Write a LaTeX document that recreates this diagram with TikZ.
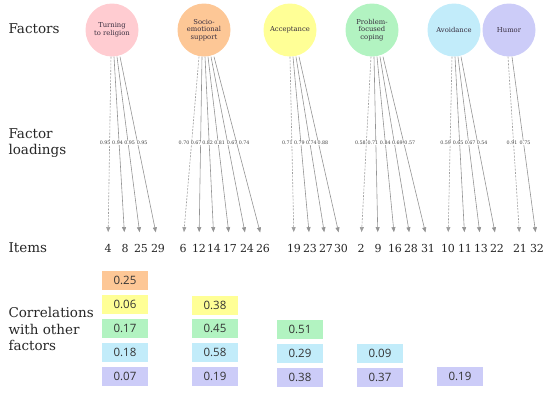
\documentclass[tikz,border=0pt]{standalone}
\usepackage{fontspec}
\setmainfont{DejaVu Serif}
\newfontfamily\corrfont{Open Sans}
\usetikzlibrary{arrows.meta}
\definecolor{religF}{RGB}{255,204,209}
\definecolor{socioF}{RGB}{253,199,150}
\definecolor{accF}{RGB}{255,255,150}
\definecolor{probF}{RGB}{178,243,193}
\definecolor{avoidF}{RGB}{194,236,250}
\definecolor{humorF}{RGB}{204,204,248}
\definecolor{txtdark}{RGB}{55,45,62}

\begin{document}
\begin{tikzpicture}[x=1pt,y=-1pt,
  factor/.style={circle,minimum size=53pt,inner sep=0pt,align=center,text=txtdark,font=\fontsize{6.8}{7.8}\selectfont},
  head/.style={anchor=west,align=left,text=black!85,font=\fontsize{13.5}{16.5}\selectfont},
  item/.style={anchor=base,inner sep=1pt,text height=7.7pt,text depth=0pt,text=black!85,font=\fontsize{11}{12}\selectfont},
  loading/.style={-{Triangle[length=5pt,width=4pt]},draw=black!42,line width=.6pt,shorten >=11pt},
  fixedarrow/.style={loading,draw=black!38,dash pattern=on 2pt off 1.3pt},
  lab/.style={pos=.463,fill=white,inner sep=.3pt,text=black!75,font=\fontsize{4.8}{5}\selectfont},
  corr/.style={minimum width=46pt,minimum height=19pt,inner sep=0pt,text=black!80,font=\corrfont\fontsize{11.5}{12}\selectfont}]
\useasboundingbox (0,0) rectangle (550,392);

\node[head] (hfac) at (5,28.5) {Factors};
\node[head] (hload) at (5,143) {Factor\\loadings};
\node[head,anchor=base west] (hitem) at (5,252) {Items};
\node[head] (hcorr) at (5,329) {Correlations\\with other\\factors};

\node[factor,fill=religF] (tr) at (112,30) {Turning\\to religion};
\node[factor,fill=socioF] (se) at (204,30) {Socio-\\emotional\\support};
\node[factor,fill=accF] (ac) at (290,30) {Acceptance};
\node[factor,fill=probF] (pf) at (372,30) {Problem-\\focused\\coping};
\node[factor,fill=avoidF] (av) at (454,30) {Avoidance};
\node[factor,fill=humorF] (hu) at (509,30) {Humor};

\foreach \x/\i in {108/4,125/8,141/25,158/29,183/6,199/12,214/14,230/17,247/24,263/26,
  294/19,310/23,326/27,341/30,361/2,378/9,395/16,411/28,428/31,448/10,465/11,481/13,497/22,520/21,537/32}
  \node[item] (it\i) at (\x,252) {\i};

\draw[fixedarrow] ([xshift=-1pt]tr.south) -- node[lab,xshift=-4.5pt]{0.95} (it4.north);
\foreach \d/\i/\v/\s in {2/8/0.94/-1.5,5/25/0.95/1.5,8/29/0.95/4.5}
  \draw[loading] ([xshift=\d pt]tr.south) -- node[lab,xshift=\s pt]{\v} (it\i.north);

\draw[fixedarrow] ([xshift=-5pt]se.south) -- node[lab,xshift=-7.5pt]{0.70} (it6.north);
\foreach \d/\i/\v/\s in {-2/12/0.67/-4.5,1/14/0.82/-1.5,4/17/0.81/1.5,7/24/0.67/4.5,10/26/0.74/7.5}
  \draw[loading] ([xshift=\d pt]se.south) -- node[lab,xshift=\s pt]{\v} (it\i.north);

\draw[fixedarrow] ([xshift=0pt]ac.south) -- node[lab,xshift=-4.5pt]{0.71} (it19.north);
\foreach \d/\i/\v/\s in {3/23/0.79/-1.5,6/27/0.74/1.5,9/30/0.88/4.5}
  \draw[loading] ([xshift=\d pt]ac.south) -- node[lab,xshift=\s pt]{\v} (it\i.north);

\draw[fixedarrow] ([xshift=-1pt]pf.south) -- node[lab,xshift=-6pt]{0.58} (it2.north);
\foreach \d/\i/\v/\s in {2/9/0.71/-3,5/16/0.84/0,8/28/0.69/3,11/31/0.57/6}
  \draw[loading] ([xshift=\d pt]pf.south) -- node[lab,xshift=\s pt]{\v} (it\i.north);

\draw[fixedarrow] ([xshift=-2pt]av.south) -- node[lab,xshift=-4.5pt]{0.59} (it10.north);
\foreach \d/\i/\v/\s in {1/11/0.65/-1.5,4/13/0.67/1.5,7/22/0.54/4.5}
  \draw[loading] ([xshift=\d pt]av.south) -- node[lab,xshift=\s pt]{\v} (it\i.north);

\draw[fixedarrow] ([xshift=-1pt]hu.south) -- node[lab,xshift=-1.5pt]{0.91} (it21.north);
\draw[loading] ([xshift=3pt]hu.south) -- node[lab,xshift=1.5pt]{0.75} (it32.north);

\node[corr,fill=socioF] (c1a) at (125,280) {0.25};
\node[corr,fill=accF] (c1b) at (125,304) {0.06};
\node[corr,fill=probF] (c1c) at (125,328) {0.17};
\node[corr,fill=avoidF] (c1d) at (125,352) {0.18};
\node[corr,fill=humorF] (c1e) at (125,376) {0.07};
\node[corr,fill=accF] (c2b) at (215,305) {0.38};
\node[corr,fill=probF] (c2c) at (215,328) {0.45};
\node[corr,fill=avoidF] (c2d) at (215,352) {0.58};
\node[corr,fill=humorF] (c2e) at (215,376) {0.19};
\node[corr,fill=probF] (c3c) at (300,329) {0.51};
\node[corr,fill=avoidF] (c3d) at (300,353) {0.29};
\node[corr,fill=humorF] (c3e) at (300,377) {0.38};
\node[corr,fill=avoidF] (c4d) at (380,353) {0.09};
\node[corr,fill=humorF] (c4e) at (380,377) {0.37};
\node[corr,fill=humorF] (c5e) at (460,376) {0.19};
\end{tikzpicture}
\end{document}
